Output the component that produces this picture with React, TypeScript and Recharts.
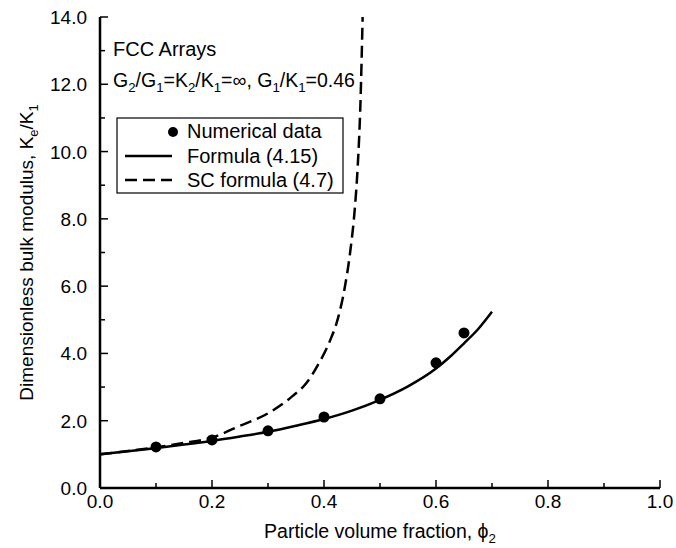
import React from 'react'
import { ComposedChart, Line, Scatter, XAxis, YAxis, Label } from 'recharts'

// numerical data (FCC arrays)
const phiNumerical = [0.1, 0.2, 0.3, 0.4, 0.5, 0.6, 0.65]
const kNumerical = [1.22, 1.43, 1.7, 2.11, 2.65, 3.72, 4.61]

// Formula (4.15)
const phiFormula = [0, 0.05, 0.1, 0.15, 0.2, 0.25, 0.3, 0.35, 0.4, 0.45, 0.5, 0.55, 0.6, 0.625, 0.65, 0.675, 0.7]
const kFormula = [1.0, 1.09, 1.19, 1.29, 1.4, 1.53, 1.67, 1.85, 2.05, 2.3, 2.62, 3.02, 3.55, 3.9, 4.3, 4.72, 5.24]

// SC formula (4.7)
const phiSC = [0, 0.05, 0.1, 0.15, 0.2, 0.25, 0.3, 0.34, 0.37, 0.39, 0.41, 0.425, 0.437, 0.447, 0.455, 0.46, 0.465, 0.469]
const kSC = [1.0, 1.1, 1.21, 1.34, 1.5, 1.85, 2.22, 2.68, 3.15, 3.68, 4.35, 5.05, 5.95, 7.05, 8.3, 9.5, 11.4, 14.0]

const xTicks = [0, 0.1, 0.2, 0.3, 0.4, 0.5, 0.6, 0.7, 0.8, 0.9, 1.0]
const xLabeled = [0, 0.2, 0.4, 0.6, 0.8, 1.0]
const yTicks = [0, 1, 2, 3, 4, 5, 6, 7, 8, 9, 10, 11, 12, 13, 14]
const yLabeled = [0, 2, 4, 6, 8, 10, 12, 14]

const numerical = phiNumerical.map((phi, i) => ({ phi, k: kNumerical[i] }))
const formula = phiFormula.map((phi, i) => ({ phi, k: kFormula[i] }))
const scFormula = phiSC.map((phi, i) => ({ phi, k: kSC[i] }))

const FONT = '"Liberation Sans", Arial, Helvetica, sans-serif'
const MAJOR = 8
const MINOR = 5

const Sub = ({ children }: { children: string }) => (
  <>
    <tspan dy={5} fontSize="0.68em">{children}</tspan>
    <tspan dy={-5}>{'\u200b'}</tspan>
  </>
)

const BottomTick = ({ x, y, payload }: any) => {
  const major = xLabeled.includes(payload.value)
  return (
    <g>
      <line x1={x} y1={y} x2={x} y2={y - (major ? MAJOR : MINOR)} stroke="#000" strokeWidth={1.5} />
      {major && (
        <text x={x} y={y + 20} textAnchor="middle" fontSize={19} fontFamily={FONT} fill="#000">
          {payload.value.toFixed(1)}
        </text>
      )}
    </g>
  )
}

const TopTick = ({ x, y, payload }: any) => {
  const major = xLabeled.includes(payload.value)
  return <line x1={x} y1={y} x2={x} y2={y + (major ? MAJOR : MINOR)} stroke="#000" strokeWidth={1.5} />
}

const LeftTick = ({ x, y, payload }: any) => {
  const major = yLabeled.includes(payload.value)
  return (
    <g>
      <line x1={x} y1={y} x2={x + (major ? MAJOR : MINOR)} y2={y} stroke="#000" strokeWidth={1.5} />
      {major && (
        <text x={x - 13} y={y + 7} textAnchor="end" fontSize={19} fontFamily={FONT} fill="#000">
          {payload.value.toFixed(1)}
        </text>
      )}
    </g>
  )
}

const RightTick = ({ x, y, payload }: any) => {
  const major = yLabeled.includes(payload.value)
  return <line x1={x} y1={y} x2={x - (major ? MAJOR : MINOR)} y2={y} stroke="#000" strokeWidth={1.5} />
}

const XTitle = ({ viewBox }: any) => (
  <text x={viewBox.x + viewBox.width / 2} y={viewBox.y + 50} textAnchor="middle" fontSize={19.5} fontFamily={FONT} fill="#000">
    Particle volume fraction, {'\u03d5'}<Sub>2</Sub>
  </text>
)

const YTitle = ({ viewBox }: any) => {
  const cx = 33
  const cy = viewBox.y + viewBox.height / 2
  return (
    <text x={cx} y={cy} transform={`rotate(-90 ${cx} ${cy})`} textAnchor="middle" fontSize={19} fontFamily={FONT} fill="#000">
      Dimensionless bulk modulus, K<Sub>e</Sub>/K<Sub>1</Sub>
    </text>
  )
}

const Dot = ({ cx, cy }: any) => <circle cx={cx} cy={cy} r={5.5} fill="#000" />

const axisLine = { stroke: '#000', strokeWidth: 2.5 }

export default function App() {
  return (
    <div style={{ position: 'absolute', left: 0, top: 0, width: 676, height: 548, background: '#fff' }}>
      <ComposedChart width={676} height={548} margin={{ top: 17, right: 16, left: 0, bottom: 0 }}>
        <XAxis
          xAxisId={0}
          dataKey="phi"
          type="number"
          domain={[0, 1]}
          ticks={xTicks}
          interval={0}
          height={60}
          tickSize={0}
          tickMargin={0}
          tickLine={false}
          axisLine={axisLine}
          tick={BottomTick}
        >
          <Label content={XTitle} />
        </XAxis>
        <XAxis
          xAxisId="top"
          orientation="top"
          type="number"
          domain={[0, 1]}
          ticks={xTicks}
          interval={0}
          height={0}
          tickSize={0}
          tickMargin={0}
          tickLine={false}
          axisLine={axisLine}
          tick={TopTick}
        />
        <YAxis
          yAxisId={0}
          type="number"
          domain={[0, 14]}
          allowDataOverflow
          ticks={yTicks}
          interval={0}
          width={100}
          tickSize={0}
          tickMargin={0}
          tickLine={false}
          axisLine={axisLine}
          tick={LeftTick}
        >
          <Label content={YTitle} />
        </YAxis>
        <YAxis
          yAxisId="right"
          orientation="right"
          type="number"
          domain={[0, 14]}
          ticks={yTicks}
          interval={0}
          width={0}
          tickSize={0}
          tickMargin={0}
          tickLine={false}
          axisLine={axisLine}
          tick={RightTick}
        />
        <Line
          data={scFormula}
          dataKey="k"
          type="monotone"
          stroke="#000"
          strokeWidth={2.5}
          strokeDasharray="12 6"
          dot={false}
          isAnimationActive={false}
        />
        <Line
          data={formula}
          dataKey="k"
          type="monotone"
          stroke="#000"
          strokeWidth={2.5}
          dot={false}
          isAnimationActive={false}
        />
        <Scatter data={numerical} dataKey="k" shape={Dot} isAnimationActive={false} />
      </ComposedChart>

      {/* annotation + legend */}
      <svg width={676} height={548} style={{ position: 'absolute', left: 0, top: 0, pointerEvents: 'none' }}>
        <g fontFamily={FONT} fontSize={20} fill="#000">
          <text x={113} y={56}>FCC Arrays</text>
          <text x={113} y={87} fontSize={19.5}>
            G<Sub>2</Sub>/G<Sub>1</Sub>=K<Sub>2</Sub>/K<Sub>1</Sub>={'\u221e'}, G<Sub>1</Sub>/K<Sub>1</Sub>=0.46
          </text>
          <rect x={117} y={118} width={226} height={75} fill="#fff" stroke="#000" strokeWidth={1.2} />
          <circle cx={173} cy={132} r={5} fill="#000" />
          <text x={187} y={138}>Numerical data</text>
          <line x1={125} y1={156} x2={172} y2={156} stroke="#000" strokeWidth={2.5} />
          <text x={187} y={163}>Formula (4.15)</text>
          <line x1={125} y1={180} x2={172} y2={180} stroke="#000" strokeWidth={2.5} strokeDasharray="12 6" />
          <text x={187} y={187}>SC formula (4.7)</text>
        </g>
      </svg>
    </div>
  )
}
